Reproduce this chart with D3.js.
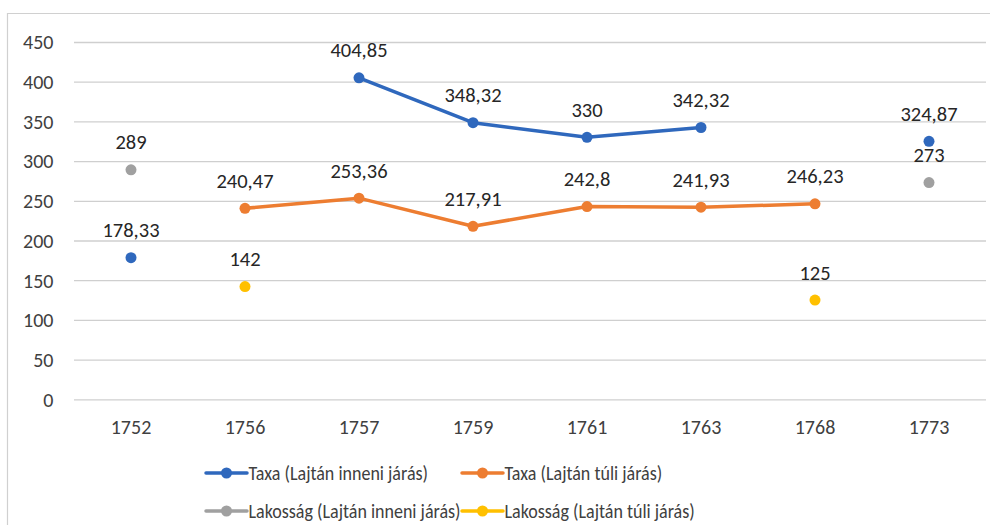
<!DOCTYPE html>
<html>
<head>
<meta charset="utf-8">
<script src="https://cdn.jsdelivr.net/npm/d3@7"></script>
<style>
  html, body { margin: 0; padding: 0; background: #fff; }
  svg { display: block; font-family: Carlito, Calibri, "Open Sans", sans-serif; }
</style>
</head>
<body>
<svg id="chart" width="990" height="525"></svg>
<script>
const years = ["1752", "1756", "1757", "1759", "1761", "1763", "1768", "1773"];
const taxaInneni  = [178.33, null, 404.85, 348.32, 330, 342.32, null, 324.87];
const taxaTuli    = [null, 240.47, 253.36, 217.91, 242.8, 241.93, 246.23, null];
const lakInneni   = [289, null, null, null, null, null, null, 273];
const lakTuli     = [null, 142, null, null, null, null, 125, null];
const seriesNames = ["Taxa (Lajtán inneni járás)", "Taxa (Lajtán túli járás)",
                     "Lakosság (Lajtán inneni járás)", "Lakosság (Lajtán túli járás)"];
const seriesColors = ["#2F68BD", "#ED7D31", "#A0A0A0", "#FFC000"];
const yTicks = [0, 50, 100, 150, 200, 250, 300, 350, 400, 450];

const seriesData = [taxaInneni, taxaTuli, lakInneni, lakTuli];
const fmt = v => String(v).replace(".", ",");

const svg = d3.select("#chart");
const mLeft = 74, mRight = 986, mTop = 42, mBottom = 399.3;

const x = d3.scaleBand().domain(years).range([mLeft, mRight]);
const y = d3.scaleLinear().domain([0, 450]).range([mBottom, mTop]);
const cx = d => x(d) + x.bandwidth() / 2;

// outer border (top + left)
svg.append("line").attr("x1", 7).attr("x2", 990).attr("y1", 13.5).attr("y2", 13.5)
  .attr("stroke", "#d0d0d0").attr("stroke-width", 1.2);
svg.append("line").attr("x1", 7.5).attr("x2", 7.5).attr("y1", 13).attr("y2", 525)
  .attr("stroke", "#d0d0d0").attr("stroke-width", 1.2);

// gridlines
const yAxis = d3.axisLeft(y).tickValues(yTicks).tickSize(-(mRight - mLeft)).tickPadding(20);
const gy = svg.append("g").attr("transform", `translate(${mLeft},0)`).call(yAxis);
gy.select(".domain").remove();
gy.selectAll(".tick line").attr("stroke", "#cfcfcf").attr("stroke-width", 1.3);
gy.selectAll(".tick text").attr("fill", "#404040").style("font-size", "20px")
  .style("font-family", "Carlito, Calibri, sans-serif")
  .attr("x", -20.5).attr("dy", "0.34em");

// x axis labels
const xAxis = d3.axisBottom(x).tickSize(0).tickPadding(0);
const gx = svg.append("g").attr("transform", `translate(0,${mBottom})`).call(xAxis);
gx.select(".domain").remove();
gx.selectAll(".tick text").attr("fill", "#404040").style("font-size", "20px")
  .style("font-family", "Carlito, Calibri, sans-serif")
  .attr("y", 27.5).attr("dy", "0.34em");

// lines
const line = d3.line()
  .defined(d => d.v !== null)
  .x(d => cx(d.k)).y(d => y(d.v));

seriesData.forEach((arr, i) => {
  const pts = arr.map((v, j) => ({ k: years[j], v }));
  svg.append("path").datum(pts)
    .attr("d", line)
    .attr("fill", "none")
    .attr("stroke", seriesColors[i])
    .attr("stroke-width", 3.5)
    .attr("stroke-linejoin", "round")
    .attr("stroke-linecap", "round");
});

// markers
seriesData.forEach((arr, i) => {
  const pts = arr.map((v, j) => ({ k: years[j], v })).filter(d => d.v !== null);
  svg.append("g").selectAll("circle").data(pts).join("circle")
    .attr("cx", d => cx(d.k)).attr("cy", d => y(d.v)).attr("r", 5.5)
    .attr("fill", seriesColors[i]);
});

// data labels
seriesData.forEach((arr, i) => {
  const pts = arr.map((v, j) => ({ k: years[j], v })).filter(d => d.v !== null);
  svg.append("g").selectAll("text").data(pts).join("text")
    .attr("x", d => cx(d.k)).attr("y", d => y(d.v) - 27.5)
    .attr("dy", "0.34em")
    .attr("text-anchor", "middle")
    .attr("fill", "#262626")
    .style("font-size", "20.5px")
    .text(d => fmt(d.v));
});

// legend
const legendPos = [
  { x: 206, y: 473 }, { x: 462, y: 473 },
  { x: 206, y: 511 }, { x: 462, y: 511 }
];
const lg = svg.append("g").selectAll("g").data(seriesNames).join("g")
  .attr("transform", (d, i) => `translate(${legendPos[i].x},${legendPos[i].y})`);
lg.append("line").attr("x1", 0).attr("x2", 41).attr("y1", 0).attr("y2", 0)
  .attr("stroke", (d, i) => seriesColors[i]).attr("stroke-width", 3.5)
  .attr("stroke-linecap", "round");
lg.append("circle").attr("cx", 20.5).attr("cy", 0).attr("r", 5.5)
  .attr("fill", (d, i) => seriesColors[i]);
lg.append("text")
  .attr("x", 42.5)
  .attr("dy", "0.34em")
  .attr("fill", "#404040").style("font-size", "20px")
  .text(d => d)
  .each(function () {
    const w = this.getComputedTextLength();
    d3.select(this).attr("textLength", w * 0.9).attr("lengthAdjust", "spacingAndGlyphs");
  });
</script>
</body>
</html>
